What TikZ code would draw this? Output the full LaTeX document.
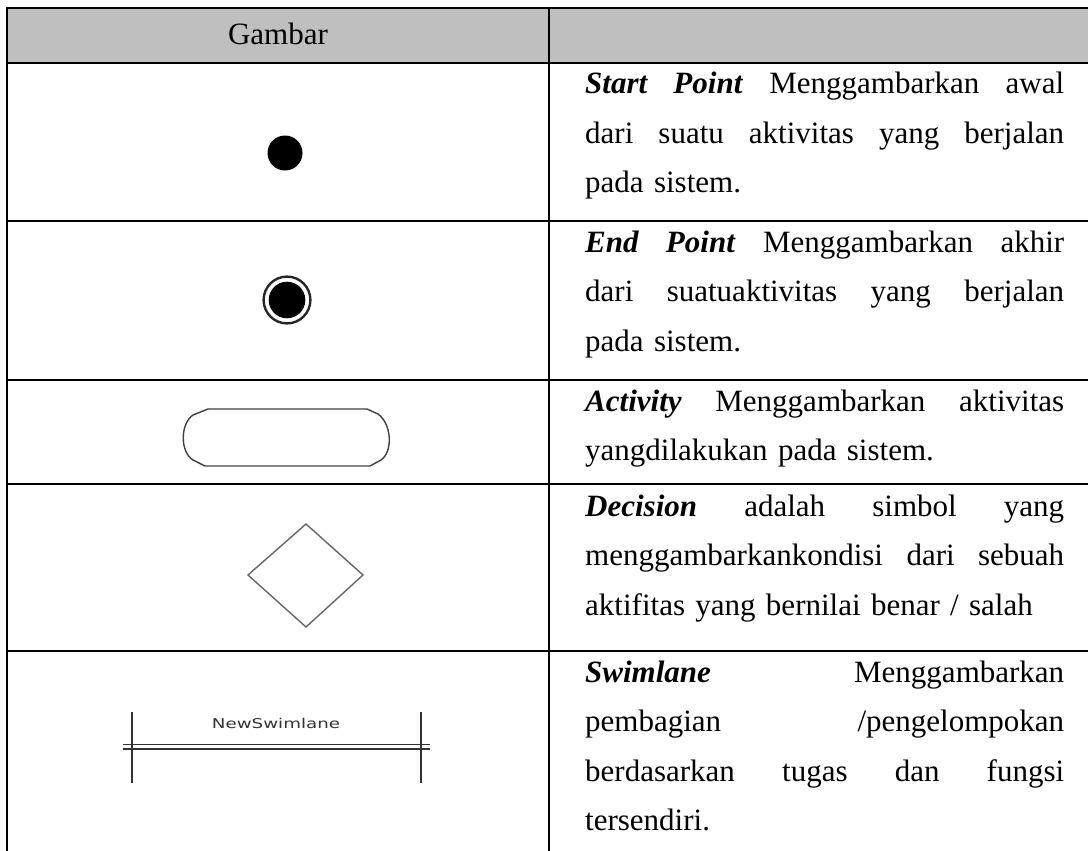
\documentclass[tikz,border=0pt]{standalone}
\usepackage{graphicx}
\usepackage{fontspec}
\setmainfont{Liberation Serif}
\newfontfamily\pixsans{DejaVu Sans}
\newcommand{\jl}[1]{\leavevmode\hbox to 479pt{\spaceskip=0.25em plus 1fil\relax #1}}
\newcommand{\bi}[1]{\textbf{\textit{#1}}}
\begin{document}
\begin{tikzpicture}[x=1pt,y=-1pt,
  tbl/.style={line width=2.2pt,black},
  hdr/.style={fill=black!25},
  shp/.style={line width=1.4pt,draw=black!75},
  desc/.style={anchor=base west,inner sep=0pt,text width=479pt,align=left,font=\fontsize{31}{49.5}\selectfont},
  head/.style={anchor=base,inner sep=0pt,font=\fontsize{31}{36}\selectfont}]
\useasboundingbox (0,0) rectangle (1088,851);
\clip (0,0) rectangle (1088,851);
% header
\fill[hdr] (7,8) rectangle (1090,63);
% grid
\draw[tbl] (7,8) -- (1092,8);
\draw[tbl] (7,63) -- (1092,63);
\draw[tbl] (7,221) -- (1092,221);
\draw[tbl] (7,380) -- (1092,380);
\draw[tbl] (7,484) -- (1092,484);
\draw[tbl] (7,651) -- (1092,651);
\draw[tbl] (7,7) -- (7,855);
\draw[tbl] (549,7) -- (549,855);
\node[head] (hgambar) at (278,45) {Gambar};
% start point
\coordinate (startpt) at (285,153);
\fill[black] (startpt) circle (17.5);
% end point
\coordinate (endpt) at (287,300);
\draw[line width=2.4pt,black!85] (endpt) circle (23.4);
\fill[black] (endpt) circle (18.3);
% activity
\draw[shp] (208,409) -- (367,409) -- (378,414) .. controls (392,424) and (393,452) .. (381,460)
  -- (370,466) -- (205,466) -- (193,460) .. controls (180,452) and (180,424) .. (193,415) -- cycle;
% decision
\draw[shp,draw=black!60] (306,524) -- (363,575) -- (306,627) -- (248,575) -- cycle;
% swimlane
\draw[line width=2pt,black!80] (132,712) -- (132,783);
\draw[line width=2pt,black!80] (421,712) -- (421,783);
\draw[line width=1.6pt,black!80] (123,744.5) -- (430,744.5);
\draw[line width=1.6pt,black!80] (123,749) -- (430,749);
\node[inner sep=0pt,anchor=base,text=black!80] (swimname) at (276,728)
  {\scalebox{1.35}[1]{\pixsans\fontsize{13.5}{14}\selectfont NewSwimlane}};
% descriptions
\node[desc] (dstart) at (585,94) {\jl{\bi{Start Point} Menggambarkan awal}\\
\jl{dari suatu aktivitas yang berjalan}\\
pada sistem.};
\node[desc] (dend) at (585,252) {\jl{\bi{End Point} Menggambarkan akhir}\\
\jl{dari suatuaktivitas yang berjalan}\\
pada sistem.};
\node[desc] (dact) at (585,411) {\jl{\bi{Activity} Menggambarkan aktivitas}\\
yangdilakukan pada sistem.};
\node[desc] (ddec) at (585,516) {\jl{\bi{Decision} adalah simbol yang}\\
\jl{menggambarkankondisi dari sebuah}\\
aktifitas yang bernilai benar / salah};
\node[desc] (dswim) at (585,682) {\jl{\bi{Swimlane} Menggambarkan}\\
\jl{pembagian /pengelompokan}\\
\jl{berdasarkan tugas dan fungsi}\\
tersendiri.};
\end{tikzpicture}
\end{document}
